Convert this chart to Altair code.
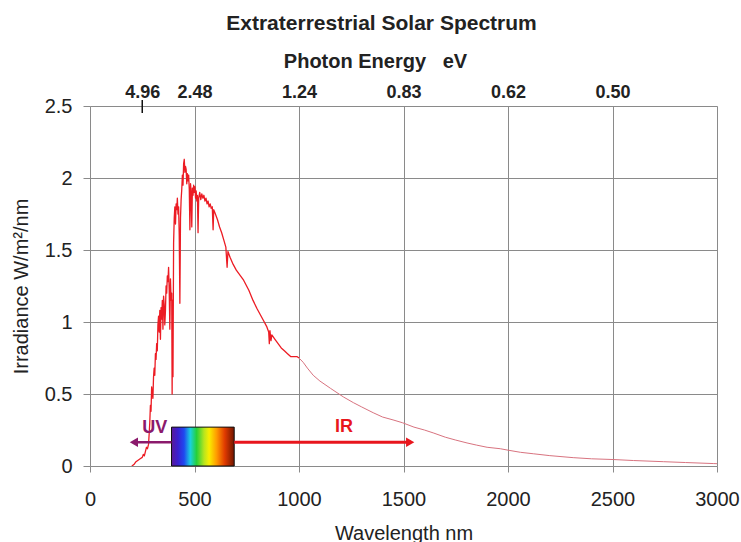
import altair as alt
import pandas as pd

# Extraterrestrial solar irradiance (W/m^2/nm) against wavelength (nm)
wavelength_nm = [
    200, 210, 220, 230, 240, 250, 255, 260, 265, 270, 275, 280, 283, 286, 289, 292, 295, 298,
    301, 304, 307, 310, 313, 316, 319, 322, 325, 328, 331, 334, 337, 340, 343, 346, 349, 352,
    355, 358, 361, 364, 367, 370, 373, 376, 379, 382, 385, 388, 391, 393, 395, 397, 400, 403,
    406, 409, 412, 415, 418, 421, 424, 427, 430, 433, 436, 439, 442, 445, 448, 451, 454, 457,
    460, 463, 466, 469, 472, 475, 478, 481, 484, 487, 490, 493, 496, 499, 502, 505, 508, 511,
    514, 517, 520, 525, 530, 535, 540, 545, 550, 555, 560, 565, 570, 575, 580, 585, 589, 592,
    600, 610, 620, 630, 640, 650, 656, 660, 670, 685, 700, 720, 735, 760, 780, 800, 815, 830,
    845, 855, 858, 861, 866, 870, 885, 900, 915, 930, 945, 960, 975, 990, 1000,
    1020, 1040, 1068, 1100, 1150, 1212, 1260, 1300, 1355, 1400, 1450, 1496, 1550, 1600, 1642,
    1700, 1750, 1804, 1850, 1900, 1963, 2000, 2060, 2121, 2200, 2312, 2400, 2503, 2600, 2743,
    2850, 2982, 3000,
]
irradiance = [
    0.00, 0.01, 0.03, 0.04, 0.05, 0.06, 0.08, 0.07, 0.10, 0.13, 0.12, 0.15, 0.22, 0.30, 0.42, 0.38, 0.55, 0.50,
    0.47, 0.62, 0.68, 0.63, 0.78, 0.74, 0.85, 0.80, 0.98, 1.04, 0.93, 1.08, 0.88, 1.10, 1.02, 1.15, 0.95, 1.18,
    1.12, 0.98, 1.08, 1.25, 1.20, 1.32, 1.28, 1.38, 1.22, 0.95, 1.30, 1.15, 1.20, 0.50, 1.15, 0.62, 1.55, 1.72,
    1.80, 1.68, 1.82, 1.78, 1.86, 1.75, 1.80, 1.60, 1.13, 1.72, 1.85, 1.92, 2.02, 1.95, 2.10, 2.13, 2.04, 2.08,
    2.06, 1.96, 2.03, 1.98, 2.02, 1.92, 1.64, 1.96, 1.90, 1.66, 1.93, 1.88, 1.95, 1.90, 1.94, 1.86, 1.91, 1.84,
    1.88, 1.62, 1.86, 1.90, 1.85, 1.89, 1.86, 1.88, 1.84, 1.86, 1.82, 1.84, 1.80, 1.82, 1.79, 1.80, 1.64, 1.78,
    1.75, 1.71, 1.66, 1.62, 1.57, 1.52, 1.38, 1.49, 1.45, 1.40, 1.36, 1.32, 1.29, 1.22, 1.15, 1.09, 1.05, 1.01,
    0.97, 0.93, 0.85, 0.94, 0.87, 0.91, 0.88, 0.85, 0.82, 0.80, 0.78, 0.76, 0.76, 0.76, 0.75,
    0.72, 0.68, 0.63, 0.59, 0.54, 0.48, 0.44, 0.41, 0.37, 0.34, 0.32, 0.30, 0.27, 0.25, 0.23,
    0.20, 0.18, 0.16, 0.145, 0.13, 0.12, 0.11, 0.095, 0.085, 0.072, 0.058, 0.05, 0.045, 0.038, 0.03,
    0.024, 0.017, 0.016,
]
# beyond this wavelength the measured spectrum is smooth and drawn as a thin trace
tail_start_nm = 1000

# axis ticks
wavelength_ticks = [0, 500, 1000, 1500, 2000, 2500, 3000]
irradiance_ticks = [0, 0.5, 1, 1.5, 2, 2.5]
energy_tick_nm = [250, 500, 1000, 1500, 2000, 2500]
energy_tick_labels = ["4.96", "2.48", "1.24", "0.83", "0.62", "0.50"]
marked_energy_nm = [250]

# visible band and UV / IR annotations
visible_band_nm = [390, 690]
visible_band_height = [0, 0.27]
band_names = ["UV", "IR"]
band_arrow_from_nm = [390, 690]
band_arrow_to_nm = [205, 1536]
band_arrow_head_nm = [210, 1532]
band_arrow_level = [0.165, 0.165]
band_label_nm = [310, 1215]
band_label_level = [0.265, 0.27]
band_colors = ["#8b1a6c", "#e8161d"]
band_arrow_widths = [2.5, 3.2]

FONT = "Liberation Sans"
INK = "#222222"
GRID = "#8a8a8a"

spec = pd.DataFrame({"wavelength": wavelength_nm, "irradiance": irradiance})
dense = spec[spec.wavelength <= tail_start_nm].assign(part="dense")
tail = spec[spec.wavelength >= tail_start_nm].assign(part="tail")
spec_df = pd.concat([dense, tail], ignore_index=True)

bands_df = pd.DataFrame({
    "band": band_names,
    "from": band_arrow_from_nm,
    "to": band_arrow_to_nm,
    "head": band_arrow_head_nm,
    "level": band_arrow_level,
    "label_x": band_label_nm,
    "label_y": band_label_level,
})
visible_df = pd.DataFrame({
    "start": [visible_band_nm[0]], "end": [visible_band_nm[1]],
    "bottom": [visible_band_height[0]], "top": [visible_band_height[1]],
})
energy_df = pd.DataFrame({"nm": marked_energy_nm})

x_scale = alt.Scale(domain=[0, 3000], nice=False, zero=False)
y_scale = alt.Scale(domain=[0, 2.5], nice=False)
band_color = alt.Scale(domain=band_names, range=band_colors)

bottom_axis = alt.Axis(
    orient="bottom", values=wavelength_ticks, format="d", title="Wavelength nm",
    grid=True, gridColor=GRID, gridWidth=1, domain=False,
    ticks=True, tickSize=6, tickColor=GRID,
    labelFont=FONT, labelFontSize=20, labelColor=INK, labelPadding=33,
    labelBaseline="alphabetic", labelFlush=False, labelOverlap=False,
    titleFont=FONT, titleFontSize=20, titleFontWeight="normal", titleColor=INK,
    titleY=73, titleBaseline="alphabetic",
)
left_axis = alt.Axis(
    orient="left", values=irradiance_ticks, format="~g", title="Irradiance W/m²/nm",
    grid=True, gridColor=GRID, gridWidth=1, domain=False,
    ticks=True, tickSize=7, tickColor=GRID,
    labelFont=FONT, labelFontSize=20, labelColor=INK, labelPadding=11,
    labelFlush=False, labelOverlap=False,
    titleFont=FONT, titleFontSize=20, titleFontWeight="normal", titleColor=INK,
    titleX=-69, titleY=180, titleAngle=270, titleAlign="center", titleBaseline="middle",
)

spectrum = alt.Chart(spec_df).mark_line(strokeJoin="round", clip=True).encode(
    x=alt.X("wavelength:Q", scale=x_scale, axis=bottom_axis),
    y=alt.Y("irradiance:Q", scale=y_scale, axis=left_axis),
    color=alt.Color("part:N", scale=alt.Scale(domain=["dense", "tail"], range=["#ec1c24", "#d8737f"]), legend=None),
    strokeWidth=alt.StrokeWidth("part:N", scale=alt.Scale(domain=["dense", "tail"], range=[1.3, 1.0]), legend=None),
    order="wavelength:Q",
)

rainbow = alt.Gradient(
    gradient="linear", x1=0, x2=1, y1=0, y2=0,
    stops=[
        alt.GradientStop(offset=0.0, color="#5a1a96"),
        alt.GradientStop(offset=0.1, color="#3a1fd0"),
        alt.GradientStop(offset=0.2, color="#1f48f0"),
        alt.GradientStop(offset=0.3, color="#1ad0e0"),
        alt.GradientStop(offset=0.4, color="#25d03a"),
        alt.GradientStop(offset=0.52, color="#b8e51e"),
        alt.GradientStop(offset=0.6, color="#f8ee00"),
        alt.GradientStop(offset=0.72, color="#ff9a00"),
        alt.GradientStop(offset=0.85, color="#e03a00"),
        alt.GradientStop(offset=1.0, color="#701500"),
    ],
)
visible = alt.Chart(visible_df).mark_rect(fill=rainbow, stroke="#111", strokeWidth=1).encode(
    x=alt.X("start:Q", scale=x_scale, axis=None),
    x2="end:Q",
    y=alt.Y("bottom:Q", scale=y_scale, axis=None),
    y2="top:Q",
)

arrows = alt.Chart(bands_df).mark_rule().encode(
    x=alt.X("from:Q", scale=x_scale, axis=None),
    x2="to:Q",
    y=alt.Y("level:Q", scale=y_scale, axis=None),
    color=alt.Color("band:N", scale=band_color, legend=None),
    strokeWidth=alt.StrokeWidth("band:N", scale=alt.Scale(domain=band_names, range=band_arrow_widths), legend=None),
)
heads = alt.Chart(bands_df).mark_point(filled=True, opacity=1, size=90).encode(
    x=alt.X("head:Q", scale=x_scale, axis=None),
    y=alt.Y("level:Q", scale=y_scale, axis=None),
    color=alt.Color("band:N", scale=band_color, legend=None),
    shape=alt.Shape("band:N", scale=alt.Scale(domain=band_names, range=["triangle-left", "triangle-right"]), legend=None),
)
labels = alt.Chart(bands_df).mark_text(font=FONT, fontSize=18, fontWeight="bold").encode(
    x=alt.X("label_x:Q", scale=x_scale, axis=None),
    y=alt.Y("label_y:Q", scale=y_scale, axis=None),
    text="band:N",
    color=alt.Color("band:N", scale=band_color, legend=None),
)

# photon-energy axis along the top edge
energy_expr = " : ".join(
    f"datum.value == {nm} ? '{lab}'" for nm, lab in zip(energy_tick_nm, energy_tick_labels)
) + " : ''"
top_axis = alt.Axis(
    orient="top", values=energy_tick_nm, labelExpr=energy_expr,
    title="Photon Energy\u00a0\u00a0\u00a0eV",
    grid=False, domain=False, ticks=False,
    labelFont=FONT, labelFontSize=18, labelFontWeight="bold", labelColor=INK, labelPadding=9,
    labelBaseline="alphabetic", labelFlush=False, labelOverlap=False,
    titleFont=FONT, titleFontSize=20, titleFontWeight="bold", titleColor=INK,
    titleX=285, titleY=-39, titleAlign="center", titleBaseline="alphabetic",
)
energy_tick = alt.Chart(energy_df).mark_rule(color="#111", strokeWidth=1.5).encode(
    x=alt.X("nm:Q", scale=x_scale, axis=top_axis),
    y=alt.value(-6),
    y2=alt.value(7),
)

chart = alt.layer(
    spectrum, visible, arrows, heads, labels, energy_tick
).resolve_scale(
    x="independent", y="independent",
    color="independent", strokeWidth="independent", shape="independent",
).properties(
    width=627,
    height=360,
    title=alt.TitleParams(
        "Extraterrestrial Solar Spectrum", font=FONT, fontSize=21, fontWeight="bold",
        color=INK, anchor="middle", dx=-22, offset=17,
    ),
    padding={"left": 90, "top": 106, "right": 24, "bottom": 76},
    autosize=alt.AutoSizeParams(type="none"),
).configure_view(
    stroke="#3a3a3a", strokeWidth=2,
).configure(background="white")

chart.save("out.html", embed_options={"renderer": "svg", "actions": False})
